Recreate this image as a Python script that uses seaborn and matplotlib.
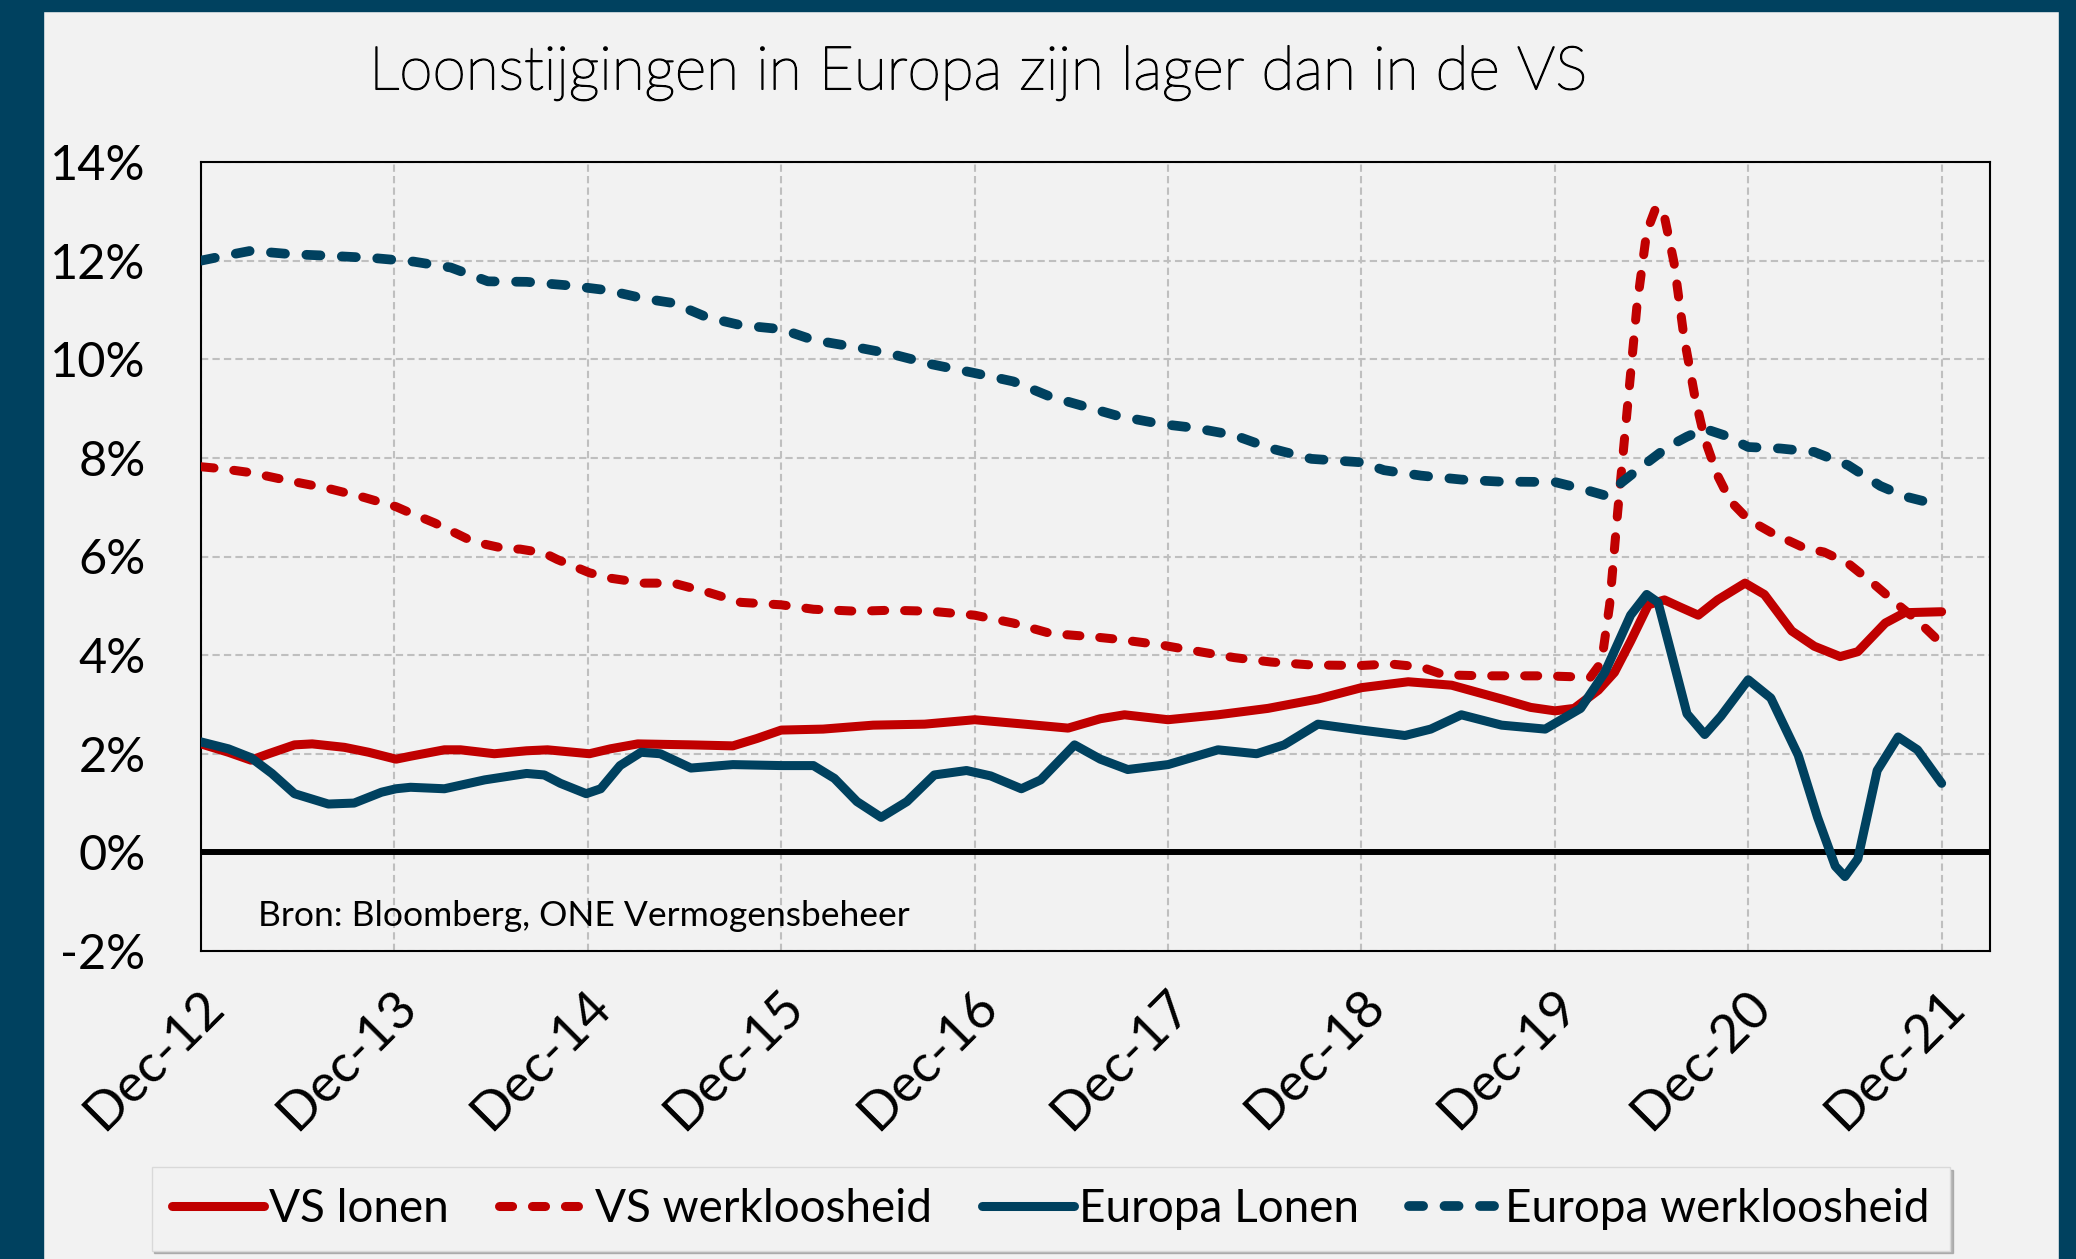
import matplotlib
matplotlib.use('Agg')
import matplotlib.pyplot as plt
import matplotlib.patches as mpatches
import matplotlib.patheffects as pe
import matplotlib.transforms as mtransforms
from matplotlib.ticker import FuncFormatter
import seaborn as sns

# months since Dec-12, values in %
us_wage_m = [0, 1.7, 3.1, 4.2, 5.8, 6.9, 8.9, 10.4, 12.1, 13.0, 15.1, 16.1, 18.2, 20.2, 21.5, 24.1,
             25.4, 27.1, 30.4, 33.0, 34.5, 36.0, 38.6, 41.7, 44.9, 48.0, 51.1, 53.8, 55.8, 57.3,
             60.0, 63.1, 66.2, 69.3, 72.0, 74.9, 77.6, 80.7, 82.5, 84.0, 85.2, 86.7, 87.7, 88.7,
             89.8, 90.8, 91.8, 92.9, 94.1, 95.8, 97.0, 98.7, 100.1, 101.7, 102.8, 104.5, 105.7, 108.0]
us_wage = [2.2, 2.03, 1.87, 2.0, 2.18, 2.2, 2.13, 2.03, 1.89, 1.95, 2.08, 2.08, 2.0, 2.06, 2.08, 2.0,
           2.1, 2.2, 2.18, 2.16, 2.31, 2.48, 2.5, 2.58, 2.6, 2.69, 2.6, 2.52, 2.71, 2.79,
           2.69, 2.79, 2.92, 3.11, 3.34, 3.46, 3.39, 3.11, 2.94, 2.87, 2.92, 3.29, 3.65, 4.28,
           5.02, 5.12, 4.97, 4.81, 5.12, 5.46, 5.23, 4.49, 4.18, 3.97, 4.07, 4.65, 4.86, 4.88]

us_unemp_m = [0, 1.3, 3.1, 5.4, 7.9, 10.1, 12.1, 12.8, 14.5, 16.7, 17.6, 19.0, 19.8, 21.3, 22.1, 24.1,
              25.4, 27.5, 29.3, 31.4, 33.5, 36.0, 38.0, 40.7, 42.8, 45.3, 48.0, 50.4, 52.7, 55.4,
              56.9, 59.5, 61.6, 64.1, 66.4, 68.9, 72.0, 73.8, 75.7, 77.1, 79.6, 83.4, 86.2, 86.9,
              87.4, 87.9, 88.5, 89.1, 89.7, 90.3, 90.8, 91.4, 92.0, 92.7, 93.3, 94.1, 94.9, 96.0,
              97.4, 99.5, 100.7, 102.2, 103.8, 105.3, 106.5, 108.0]
us_unemp = [7.82, 7.78, 7.7, 7.54, 7.38, 7.2, 7.01, 6.91, 6.68, 6.33, 6.25, 6.15, 6.15, 6.07, 5.94, 5.67,
            5.56, 5.46, 5.46, 5.28, 5.07, 5.02, 4.93, 4.89, 4.91, 4.89, 4.81, 4.65, 4.44, 4.37,
            4.32, 4.21, 4.09, 3.95, 3.86, 3.8, 3.79, 3.82, 3.76, 3.6, 3.58, 3.58, 3.55, 3.86,
            5.02, 6.91, 9.01, 11.1, 12.58, 13.1, 12.89, 11.95, 10.48, 9.22, 8.38, 7.64, 7.12, 6.75,
            6.49, 6.17, 6.09, 5.86, 5.44, 5.02, 4.7, 4.23]

eu_wage_m = [0, 1.7, 3.1, 4.4, 5.8, 7.9, 9.5, 11.2, 12.1, 13.0, 15.1, 17.6, 20.2, 21.3, 22.3, 23.9,
             24.8, 26.0, 27.3, 28.5, 30.4, 33.0, 36.0, 38.0, 39.3, 40.7, 42.2, 43.8, 45.5, 47.5,
             49.0, 50.9, 52.1, 54.2, 55.8, 57.5, 60.0, 63.1, 65.5, 67.2, 69.3, 72.0, 74.7, 76.3,
             78.2, 80.7, 83.4, 85.6, 87.1, 88.7, 89.7, 90.4, 91.2, 92.2, 93.3, 94.3, 96.0, 97.4,
             99.1, 100.3, 101.4, 102.0, 102.8, 104.0, 105.3, 106.5, 108.0]
eu_wage = [2.24, 2.1, 1.92, 1.6, 1.19, 0.98, 1.0, 1.22, 1.29, 1.32, 1.29, 1.47, 1.6, 1.57, 1.4, 1.19,
           1.29, 1.76, 2.03, 2.0, 1.71, 1.78, 1.76, 1.76, 1.5, 1.03, 0.71, 1.03, 1.57, 1.66,
           1.55, 1.29, 1.47, 2.18, 1.89, 1.68, 1.78, 2.08, 2.0, 2.18, 2.6, 2.48, 2.37, 2.5,
           2.79, 2.58, 2.5, 2.92, 3.65, 4.81, 5.23, 5.07, 4.07, 2.81, 2.39, 2.76, 3.5, 3.13,
           1.97, 0.71, -0.28, -0.49, -0.13, 1.66, 2.34, 2.08, 1.4]

eu_unemp_m = [0, 1.5, 3.1, 5.6, 7.9, 10.8, 13.2, 15.5, 17.8, 20.2, 22.7, 25.2, 27.5, 29.3, 31.4, 33.5,
              36.0, 38.0, 40.7, 42.8, 45.3, 48.0, 50.4, 52.7, 55.4, 56.9, 59.5, 61.6, 64.1, 66.4,
              68.9, 72.0, 73.4, 75.7, 78.2, 80.5, 84.0, 85.6, 87.1, 88.1, 89.1, 91.0, 92.2, 93.3,
              94.5, 96.0, 98.0, 100.1, 102.2, 104.2, 105.7, 108.0]
eu_unemp = [12.0, 12.1, 12.2, 12.13, 12.1, 12.05, 11.98, 11.86, 11.58, 11.57, 11.5, 11.4, 11.23, 11.14, 10.85, 10.69,
            10.61, 10.39, 10.24, 10.11, 9.9, 9.72, 9.55, 9.24, 8.99, 8.85, 8.69, 8.61, 8.46, 8.19,
            7.98, 7.91, 7.75, 7.64, 7.56, 7.52, 7.51, 7.38, 7.24, 7.49, 7.75, 8.22, 8.43, 8.59,
            8.46, 8.22, 8.19, 8.12, 7.85, 7.43, 7.22, 7.03]

year_ticks = [0, 12, 24, 36, 48, 60, 72, 84, 96, 108]
year_labels = ['Dec-12', 'Dec-13', 'Dec-14', 'Dec-15', 'Dec-16', 'Dec-17', 'Dec-18', 'Dec-19', 'Dec-20', 'Dec-21']

RED = '#C00000'
BLUE = '#00415F'
BG = '#F2F2F2'

sns.set_style('white')
plt.rcParams['font.family'] = ['Lato', 'DejaVu Sans']
plt.rcParams['text.color'] = 'black'
plt.rcParams['xtick.color'] = 'black'
plt.rcParams['ytick.color'] = 'black'

fig = plt.figure(figsize=(20.76, 12.59), dpi=100, facecolor=BG)

# dark frame around the picture
for x0, y0, w, h in [(0, 0, 43, 1259), (2059, 0, 17, 1259), (0, 1248, 2076, 11)]:
    fig.patches.append(mpatches.Rectangle((x0 / 2076, y0 / 1259), w / 2076, h / 1259,
                                          transform=fig.transFigure, color=BLUE, zorder=0))

ax = fig.add_axes([201 / 2076, 1 - 951 / 1259, (1990 - 201) / 2076, (951 - 162) / 1259])
ax.set_facecolor(BG)

dash = (0, (1.45, 2.2))
sns.lineplot(x=us_wage_m, y=us_wage, ax=ax, color=RED, linewidth=6.5, label='VS lonen',
             solid_capstyle='round', solid_joinstyle='round', zorder=4)
sns.lineplot(x=us_unemp_m, y=us_unemp, ax=ax, color=RED, linewidth=6.5, label='VS werkloosheid',
             linestyle=dash, dash_capstyle='round', dash_joinstyle='round', zorder=3)
sns.lineplot(x=eu_wage_m, y=eu_wage, ax=ax, color=BLUE, linewidth=6.5, label='Europa Lonen',
             solid_capstyle='round', solid_joinstyle='round', zorder=5)
sns.lineplot(x=eu_unemp_m, y=eu_unemp, ax=ax, color=BLUE, linewidth=7, label='Europa werkloosheid',
             linestyle=dash, dash_capstyle='round', dash_joinstyle='round', zorder=3)

ax.axhline(0, color='black', linewidth=4.3, zorder=2)

ax.set_xlim(0, 111)
ax.set_ylim(-2, 14)
ax.set_yticks(range(-2, 15, 2))
ax.yaxis.set_major_formatter(FuncFormatter(lambda v, p: f'{int(round(v))}%'))
ax.set_xticks(year_ticks)
ax.set_xticklabels(year_labels, rotation=45, ha='right', va='center', rotation_mode='anchor')
ax.tick_params(axis='y', length=0, pad=40, labelsize=35)
ax.tick_params(axis='x', length=0, pad=34, labelsize=38)
shift = mtransforms.ScaledTranslation(0.15, 0, fig.dpi_scale_trans)
for lbl in ax.get_xticklabels():
    lbl.set_transform(lbl.get_transform() + shift)
ax.set_xlabel('')
ax.set_ylabel('')

ax.grid(True, color='#BFBFBF', linewidth=1.5, linestyle=(0, (3.5, 2)), zorder=0)
for s in ax.spines.values():
    s.set_color('black')
    s.set_linewidth(1.5)

fig.text(978 / 2076, 1 - 73 / 1259, 'Loonstijgingen in Europa zijn lager dan in de VS',
         ha='center', va='center', fontsize=43.5, fontweight='light', color='black',
         path_effects=[pe.withStroke(linewidth=1.1, foreground='black')])
fig.text(258 / 2076, 1 - 916 / 1259, 'Bron: Bloomberg, ONE Vermogensbeheer',
         ha='left', va='center', fontsize=25.5)

ax.get_legend().remove()
handles, labels = ax.get_legend_handles_labels()
leg = fig.legend(handles, labels, loc='center', bbox_to_anchor=(1051 / 2076, 1 - 1209 / 1259),
                 ncol=4, fontsize=33, frameon=True, fancybox=False, framealpha=1,
                 facecolor=BG, edgecolor='#D9D9D9', handlelength=2.0, handletextpad=0.1,
                 columnspacing=1.1, borderpad=0.45,
                 shadow={'color': '#9A9A9A', 'alpha': 0.7})

fig.savefig('out.png', dpi=100, facecolor=BG)
